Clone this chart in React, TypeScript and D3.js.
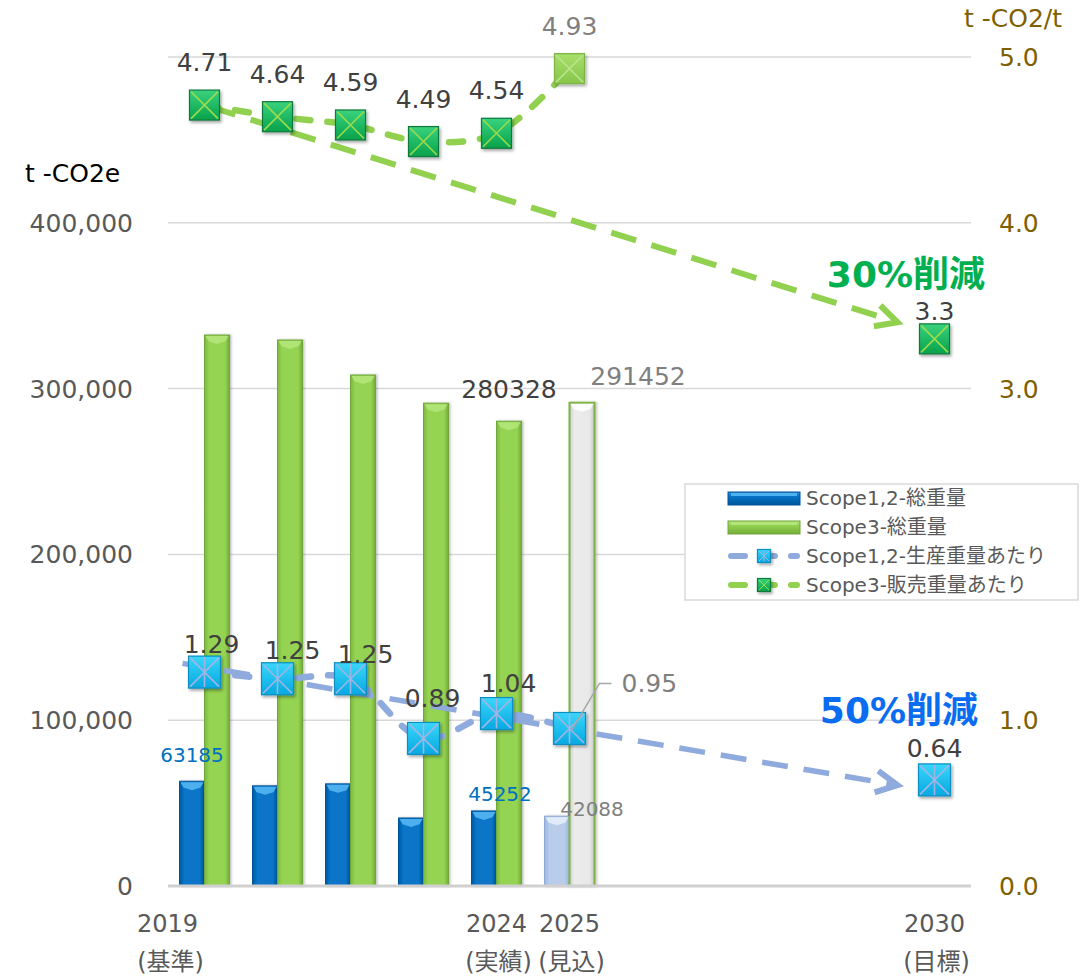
import React from 'react';
import * as d3 from 'd3';

// ---------- data ----------
const categories = ["2019", "2020", "2021", "2022", "2024", "2025", "2026", "2027", "2028", "2029", "2030"];
const yearLabels = ["2019", "", "", "", "2024", "2025", "", "", "", "", "2030"];
const noteLabels = ["(基準)", "", "", "", "(実績)", "(見込)", "", "", "", "", "(目標)"];
const barYears = ["2019", "2020", "2021", "2022", "2024", "2025"];
const scope12Total = [63185, 60400, 61600, 41000, 45252, 42088];
const scope3Total = [332300, 329300, 308200, 291200, 280328, 291452];
const scope12Intensity = [1.29, 1.25, 1.25, 0.89, 1.04, 0.95];
const scope3Intensity = [4.71, 4.64, 4.59, 4.49, 4.54, 4.93];
const targetYear = "2030";
const scope12Target = 0.64;
const scope3Target = 3.3;
const scope12TrendEnds = [1.32, 0.57];
const scope3TrendEnds = [4.71, 3.33];
const leftTicks = [0, 100000, 200000, 300000, 400000];
const rightTicks = [0, 1, 2, 3, 4, 5];
const rightTickLabels = [0, 1, 3, 4, 5]; // 2.0 sits behind the legend
const scope12TotalLabelIdx = [0, 4, 5];
const scope3TotalLabelIdx = [4, 5];
const legendItems = ["Scope1,2-総重量", "Scope3-総重量", "Scope1,2-生産重量あたり", "Scope3-販売重量あたり"];

// ---------- layout ----------
const W = 1084, H = 978;
const FONT = "'DejaVu Sans', 'Noto Sans CJK JP', sans-serif";
const plotL = 168, plotR = 971, yTop = 57, yBot = 886;

const x = d3.scaleBand<string>().domain(categories).range([plotL, plotR]);
const cx = (c: string) => (x(c) as number) + x.bandwidth() / 2;
const yL = d3.scaleLinear().domain([0, 500000]).range([yBot, yTop]);
const yR = d3.scaleLinear().domain([0, 5]).range([yBot, yTop]);
const barW = 25;

const GREEN = "#92D050";
const BLUE_LINE = "#8FAADC";

function Marker3({ x0, y0, light = false, size = 30 }: { x0: number; y0: number; light?: boolean; size?: number }) {
  const h = size / 2;
  return (
    <g filter="url(#msh)">
      <rect x={x0 - h} y={y0 - h} width={size} height={size} fill={light ? "url(#gMarkLight)" : "url(#gMark3)"}
        stroke={light ? "#7DB443" : "#0E7A3C"} strokeWidth={1.2} />
      <path d={`M${x0 - h + 1.5},${y0 - h + 1.5}L${x0 + h - 1.5},${y0 + h - 1.5}M${x0 + h - 1.5},${y0 - h + 1.5}L${x0 - h + 1.5},${y0 + h - 1.5}`}
        stroke={light ? "#B7E38A" : "#9BDB4E"} strokeWidth={size > 20 ? 1.6 : 1} />
    </g>
  );
}

function Marker12({ x0, y0, size = 32 }: { x0: number; y0: number; size?: number }) {
  const h = size / 2;
  return (
    <g filter="url(#msh)">
      <rect x={x0 - h} y={y0 - h} width={size} height={size} fill="url(#gMark12)" stroke="#0A8FC2" strokeWidth={1.2} />
      <path d={`M${x0 - h + 1.5},${y0 - h + 1.5}L${x0 + h - 1.5},${y0 + h - 1.5}M${x0 + h - 1.5},${y0 - h + 1.5}L${x0 - h + 1.5},${y0 + h - 1.5}M${x0},${y0 - h + 1}L${x0},${y0 + h - 1}`}
        stroke="#9FB6E2" strokeWidth={size > 20 ? 1.6 : 1} />
    </g>
  );
}

type BarKind = "blue" | "green" | "blueLight" | "gray";
const barStyle: Record<BarKind, { fill: string; stroke: string; cap: string }> = {
  blue: { fill: "url(#gBlue)", stroke: "#00559A", cap: "#55B6F2" },
  green: { fill: "url(#gGreen)", stroke: "#6FA63A", cap: "#B4E57A" },
  blueLight: { fill: "url(#gBlueLight)", stroke: "#8FA9D4", cap: "#E6EEF9" },
  gray: { fill: "url(#gGray)", stroke: "#7CB342", cap: "#FFFFFF" },
};

function Bar({ bx, by, w, kind, bottom = yBot }: { bx: number; by: number; w: number; kind: BarKind; bottom?: number }) {
  const h = bottom - by;
  const st = barStyle[kind];
  const capH = Math.min(9, h / 2);
  return (
    <g filter="url(#bsh)">
      <rect x={bx} y={by} width={w} height={h} fill={st.fill} stroke={st.stroke} strokeWidth={kind === "gray" ? 2 : 1} />
      <path d={`M${bx + 1},${by + 1}L${bx + w - 1},${by + 1}L${bx + w - 4},${by + capH * 0.7}L${bx + w / 2},${by + capH}L${bx + 4},${by + capH * 0.7}Z`}
        fill={st.cap} opacity={0.9} />
    </g>
  );
}

function LegendBar({ bx, by, kind }: { bx: number; by: number; kind: BarKind }) {
  const st = barStyle[kind];
  return (
    <g>
      <rect x={bx} y={by} width={72} height={13} fill={kind === "blue" ? "url(#gBlueV)" : "url(#gGreenV)"} stroke={st.stroke} strokeWidth={1} />
      <rect x={bx + 3} y={by + 1} width={66} height={3} fill={st.cap} opacity={0.9} />
    </g>
  );
}

function Chevron({ x1, y1, x2, y2, color }: { x1: number; y1: number; x2: number; y2: number; color: string }) {
  const a = Math.atan2(y1 - y2, x1 - x2);
  const L = 24, s = (27 * Math.PI) / 180;
  const p1 = [x2 + L * Math.cos(a - s), y2 + L * Math.sin(a - s)];
  const p2 = [x2 + L * Math.cos(a + s), y2 + L * Math.sin(a + s)];
  return <path d={`M${p1[0]},${p1[1]}L${x2},${y2}L${p2[0]},${p2[1]}`} fill="none" stroke={color} strokeWidth={6} strokeLinejoin="miter" />;
}

function trendPts(endVals: number[], startTrim: number, endTrim: number) {
  const xa = cx(categories[0]), xb = cx(targetYear);
  const ya = yR(endVals[0]), yb = yR(endVals[1]);
  const sl = (yb - ya) / (xb - xa);
  const x1 = xa + startTrim, x2 = xb - endTrim;
  return { x1, y1: ya + sl * (x1 - xa), x2, y2: ya + sl * (x2 - xa) };
}

export default function App() {
  const line = d3.line<[number, number]>().curve(d3.curveCatmullRom.alpha(0.5));
  const s3pts: [number, number][] = barYears.map((c, i) => [cx(c), yR(scope3Intensity[i])]);
  const s12pts: [number, number][] = barYears.map((c, i) => [cx(c), yR(scope12Intensity[i])]);
  const t3 = trendPts(scope3TrendEnds, 6, 37);
  const t12 = trendPts(scope12TrendEnds, -22, 37);

  const s12Nudge = [[7, -19], [15, -20], [15, -16], [9, -31], [12, -22]];
  const s12TotNudge: Record<number, [number, number, string]> = { 0: [0, -19, "#0070C0"], 4: [16, -10, "#0070C0"], 5: [35, 0, "#808080"] };
  const s3TotNudge: Record<number, [number, number, string]> = { 4: [0, -23, "#404040"], 5: [56, -18, "#808080"] };

  const legX = 685, legY = 484;
  const rowY = [498, 527, 556, 585];

  return (
    <svg width={W} height={H} style={{ position: "absolute", left: 0, top: 0, background: "#fff" }} fontFamily={FONT}>
      <defs>
        <linearGradient id="gBlue" x1="0" x2="1" y1="0" y2="0">
          <stop offset="0" stopColor="#00599F" />
          <stop offset="0.18" stopColor="#0775C8" />
          <stop offset="0.82" stopColor="#0775C8" />
          <stop offset="1" stopColor="#004F8E" />
        </linearGradient>
        <linearGradient id="gGreen" x1="0" x2="1" y1="0" y2="0">
          <stop offset="0" stopColor="#7BB83E" />
          <stop offset="0.18" stopColor="#95D352" />
          <stop offset="0.82" stopColor="#95D352" />
          <stop offset="1" stopColor="#72AD38" />
        </linearGradient>
        <linearGradient id="gBlueV" x1="0" x2="0" y1="0" y2="1">
          <stop offset="0" stopColor="#2E8FDA" />
          <stop offset="0.3" stopColor="#0775C8" />
          <stop offset="1" stopColor="#00569A" />
        </linearGradient>
        <linearGradient id="gGreenV" x1="0" x2="0" y1="0" y2="1">
          <stop offset="0" stopColor="#B4E57A" />
          <stop offset="0.3" stopColor="#95D352" />
          <stop offset="1" stopColor="#74AE3B" />
        </linearGradient>
        <linearGradient id="gBlueLight" x1="0" x2="1" y1="0" y2="0">
          <stop offset="0" stopColor="#9DB8E2" />
          <stop offset="0.2" stopColor="#B9CDEB" />
          <stop offset="0.8" stopColor="#B9CDEB" />
          <stop offset="1" stopColor="#98B3DE" />
        </linearGradient>
        <linearGradient id="gGray" x1="0" x2="1" y1="0" y2="0">
          <stop offset="0" stopColor="#CFCFCF" />
          <stop offset="0.2" stopColor="#ECECEC" />
          <stop offset="0.8" stopColor="#E8E8E8" />
          <stop offset="1" stopColor="#C8C8C8" />
        </linearGradient>
        <linearGradient id="gMark3" x1="0" x2="0" y1="0" y2="1">
          <stop offset="0" stopColor="#3AD27E" />
          <stop offset="1" stopColor="#07A24A" />
        </linearGradient>
        <linearGradient id="gMarkLight" x1="0" x2="0" y1="0" y2="1">
          <stop offset="0" stopColor="#A8DE6A" />
          <stop offset="1" stopColor="#86C649" />
        </linearGradient>
        <linearGradient id="gMark12" x1="0" x2="0" y1="0" y2="1">
          <stop offset="0" stopColor="#3AD6FB" />
          <stop offset="1" stopColor="#07A8E2" />
        </linearGradient>
        <filter id="msh" x="-30%" y="-30%" width="170%" height="170%">
          <feDropShadow dx="1.5" dy="2" stdDeviation="1.5" floodOpacity="0.35" />
        </filter>
        <filter id="bsh" x="-30%" y="-5%" width="170%" height="110%">
          <feDropShadow dx="1.5" dy="0" stdDeviation="1.2" floodOpacity="0.25" />
        </filter>
      </defs>

      {/* gridlines */}
      {rightTicks.slice(1).map(t => (
        <line key={t} x1={plotL} x2={plotR} y1={yR(t)} y2={yR(t)} stroke="#D9D9D9" strokeWidth={1.5} />
      ))}

      {/* bars */}
      {barYears.map((c, i) => {
        const last = i === barYears.length - 1;
        return (
          <g key={c}>
            <Bar bx={cx(c) - barW} by={yL(scope12Total[i])} w={barW} kind={last ? "blueLight" : "blue"} />
            <Bar bx={cx(c)} by={yL(scope3Total[i])} w={barW} kind={last ? "gray" : "green"} />
          </g>
        );
      })}

      {/* x axis line */}
      <line x1={plotL} x2={plotR} y1={yBot} y2={yBot} stroke="#D0D0D0" strokeWidth={3} />

      {/* axis tick labels */}
      {leftTicks.map(t => (
        <text key={t} x={133} y={yL(t)} dy="0.36em" textAnchor="end" fontSize={25} fill="#595959">{d3.format(",")(t)}</text>
      ))}
      {rightTickLabels.map(t => (
        <text key={t} x={999} y={yR(t)} dy="0.36em" textAnchor="start" fontSize={25} fill="#7F6000">{d3.format(".1f")(t)}</text>
      ))}
      <text x={25} y={182} fontSize={25} fill="#000">t -CO2e</text>
      <text x={964} y={27} fontSize={25} fill="#7F6000">t -CO2/t</text>

      {categories.map((c, i) => (
        <g key={c}>
          {yearLabels[i] && <text x={cx(c) + (i === 0 ? -37 : 0)} y={932} textAnchor="middle" fontSize={24} fill="#595959">{yearLabels[i]}</text>}
          {noteLabels[i] && <text x={cx(c) + (i === 0 ? -34 : 2)} y={970} textAnchor="middle" fontSize={24} fill="#595959">{noteLabels[i]}</text>}
        </g>
      ))}

      {/* trend lines */}
      <line x1={t12.x1} y1={t12.y1} x2={t12.x2} y2={t12.y2} stroke={BLUE_LINE} strokeWidth={5.5} strokeDasharray="26 16" />
      <Chevron {...t12} color={BLUE_LINE} />
      <line x1={t3.x1} y1={t3.y1} x2={t3.x2} y2={t3.y2} stroke={GREEN} strokeWidth={6} strokeDasharray="26 16" />
      <Chevron {...t3} color={GREEN} />

      {/* series lines */}
      <path d={line(s3pts) || ""} fill="none" stroke={GREEN} strokeWidth={6.5} strokeDasharray="14 17" strokeLinecap="round" />
      <path d={line(s12pts) || ""} fill="none" stroke={BLUE_LINE} strokeWidth={6.5} strokeDasharray="14 17" strokeLinecap="round" />

      {/* markers */}
      {s3pts.map((p, i) => <Marker3 key={i} x0={p[0]} y0={p[1]} light={i === s3pts.length - 1} />)}
      <Marker3 x0={cx(targetYear)} y0={yR(scope3Target)} />
      {s12pts.map((p, i) => <Marker12 key={i} x0={p[0]} y0={p[1]} />)}
      <Marker12 x0={cx(targetYear)} y0={yR(scope12Target)} />

      {/* intensity labels */}
      {s3pts.map((p, i) => (
        <text key={i} x={p[0]} y={p[1] - 34} textAnchor="middle" fontSize={25} fill={i === s3pts.length - 1 ? "#808080" : "#404040"}>
          {scope3Intensity[i].toFixed(2)}
        </text>
      ))}
      <text x={cx(targetYear)} y={yR(scope3Target) - 19} textAnchor="middle" fontSize={25} fill="#404040">{scope3Target.toFixed(1)}</text>
      {s12pts.slice(0, -1).map((p, i) => (
        <text key={i} x={p[0] + s12Nudge[i][0]} y={p[1] + s12Nudge[i][1]} textAnchor="middle" fontSize={25} fill="#404040">
          {scope12Intensity[i].toFixed(2)}
        </text>
      ))}
      {(() => {
        const p = s12pts[s12pts.length - 1];
        return (
          <g>
            <path d={`M${p[0] + 2},${p[1] + 2}L${p[0] + 30},${p[1] - 45}L${p[0] + 42},${p[1] - 45}`} fill="none" stroke="#A6A6A6" strokeWidth={1.5} />
            <text x={p[0] + 52} y={p[1] - 45} dy="0.36em" fontSize={25} fill="#808080">{scope12Intensity[s12pts.length - 1].toFixed(2)}</text>
          </g>
        );
      })()}
      <text x={cx(targetYear)} y={yR(scope12Target) - 23} textAnchor="middle" fontSize={25} fill="#404040">{scope12Target.toFixed(2)}</text>

      {/* total labels */}
      {scope12TotalLabelIdx.map(i => {
        const [dx, dy, col] = s12TotNudge[i];
        return <text key={i} x={cx(barYears[i]) - barW / 2 + dx} y={yL(scope12Total[i]) + dy} textAnchor="middle" fontSize={20} fill={col}>{scope12Total[i]}</text>;
      })}
      {scope3TotalLabelIdx.map(i => {
        const [dx, dy, col] = s3TotNudge[i];
        return <text key={i} x={cx(barYears[i]) + barW / 2 + dx} y={yL(scope3Total[i]) + dy} textAnchor="middle" fontSize={25} fill={col}>{scope3Total[i]}</text>;
      })}

      {/* reduction annotations */}
      <text x={985} y={287} textAnchor="end" fontSize={36} fontWeight="bold" fill="#00B050">30%削減</text>
      <text x={978} y={723} textAnchor="end" fontSize={36} fontWeight="bold" fill="#0A6CF0">50%削減</text>

      {/* legend */}
      <rect x={legX} y={legY} width={393} height={116} fill="#fff" stroke="#D9D9D9" strokeWidth={1.5} />
      <LegendBar bx={728} by={rowY[0] - 6} kind="blue" />
      <LegendBar bx={728} by={rowY[1] - 6} kind="green" />
      <line x1={731} x2={797} y1={rowY[2]} y2={rowY[2]} stroke={BLUE_LINE} strokeWidth={6} strokeDasharray="14 16" strokeLinecap="round" />
      <Marker12 x0={764} y0={rowY[2]} size={13} />
      <line x1={731} x2={797} y1={rowY[3]} y2={rowY[3]} stroke={GREEN} strokeWidth={6} strokeDasharray="14 16" strokeLinecap="round" />
      <Marker3 x0={764} y0={rowY[3]} size={13} />
      {legendItems.map((t, i) => (
        <text key={t} x={806} y={rowY[i]} dy="0.36em" fontSize={20} fill="#595959">{t}</text>
      ))}
    </svg>
  );
}
